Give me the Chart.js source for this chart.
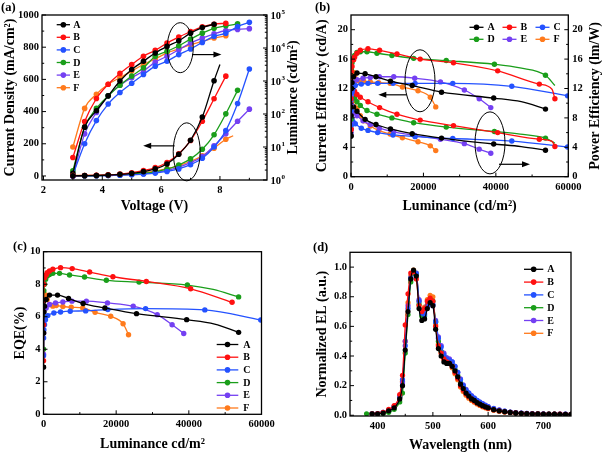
<!DOCTYPE html>
<html>
<head>
<meta charset="utf-8">
<script src="https://cdn.jsdelivr.net/npm/chart.js@4.4.1/dist/chart.umd.min.js"></script>
<style>
  body { margin: 0; background: #fff; }
  #page { position: relative; width: 602px; height: 454px; overflow: hidden; background: #fff; }
  canvas { position: absolute; }
  .tag { position: absolute; font: bold 12.5px "Liberation Serif", serif; line-height: 14px; color: #000; }
</style>
</head>
<body>
<div id="page">
  <canvas id="chartA" width="300" height="220" style="left:0;top:0"></canvas>
  <canvas id="chartB" width="302" height="220" style="left:300px;top:0"></canvas>
  <canvas id="chartC" width="300" height="234" style="left:0;top:220px"></canvas>
  <canvas id="chartD" width="302" height="234" style="left:300px;top:220px"></canvas>
  <div class="tag" style="left:1px;top:0px">(a)</div>
  <div class="tag" style="left:315px;top:0px">(b)</div>
  <div class="tag" style="left:13px;top:239px">(c)</div>
  <div class="tag" style="left:313px;top:240px">(d)</div>
</div>
<script>
// devices and colours, same order in every panel
const devices = ["A", "B", "C", "D", "E", "F"];
const colors = ["#000000", "#ff1010", "#2452ff", "#1a9e1a", "#7440f2", "#ff7a1c"];

// (a) current density (mA/cm2) + luminance (cd/m2) vs voltage
const voltage = [3.0, 3.4, 3.8, 4.2, 4.6, 5.0, 5.4, 5.8, 6.2, 6.6, 7.0, 7.4, 7.8, 8.2, 8.6, 9.0];
const jA = [1, 2, 3, 6, 10, 16, 27, 44, 74, 135, 222, 366, 592];
const jB = [2, 3, 4, 7, 12, 20, 33, 52, 84, 138, 220, 340, 480, 620];
const jC = [0, 1, 2, 3, 5, 8, 12, 18, 28, 44, 70, 110, 180, 282, 450, 665];
const jD = [1, 1, 2, 4, 7, 11, 17, 26, 42, 68, 106, 166, 256, 386, 532];
const jE = [1, 1, 2, 3, 5, 8, 13, 22, 35, 55, 83, 120, 187, 262, 340, 415];
const jF = [3, 3, 4, 6, 9, 13, 20, 30, 45, 65, 90, 125, 173, 228];
const jEndA = [8.0, 692];   // line runs past the last marker
const jEndF = [8.45, 250];
const lumA = [1.6, 40, 126, 355, 1000, 2240, 3980, 7080, 11200, 16600, 28200, 41700, 52500];
const lumB = [4.8, 59, 295, 794, 1700, 3160, 5620, 8510, 14100, 21400, 31600, 44000, 52500, 56300];
const lumC = [1.4, 12.6, 63, 200, 447, 851, 1580, 2820, 3980, 6310, 9330, 14800, 22400, 28200, 44700, 59800];
const lumD = [1.9, 40, 148, 355, 741, 1410, 2510, 5620, 7940, 11700, 18600, 28200, 39600, 47000, 53700];
const lumE = [1.3, 25, 112, 355, 741, 1260, 2000, 3720, 5620, 8910, 14100, 20000, 26900, 33900, 36500, 38600];
const lumF = [10, 148, 398, 794, 1260, 2000, 3160, 4680, 7080, 9330, 12600, 15800, 20000, 23400];

// (b) current efficiency (cd/A) and power efficiency (lm/W) vs luminance, [L, value, 0 = no marker]
const ceA = [[5, 5.6], [40, 9.5], [150, 12.0], [280, 12.8], [700, 13.6], [1650, 14.1], [3900, 14.0], [6900, 13.6], [10900, 13.0], [16900, 12.4], [25000, 11.5], [39400, 10.7], [47000, 10.2, 0], [53700, 9.2]];
const ceB = [[5, 6.4], [20, 10.6], [50, 13.5], [100, 14.3], [280, 15.0], [735, 15.9], [1010, 16.3], [1650, 16.8], [2570, 17.2], [4690, 17.4], [7900, 17.2], [12700, 16.7], [19100, 16.0], [28300, 15.5], [40500, 14.4], [52000, 12.6], [55500, 11.9, 0], [56300, 10.6]];
const ceC = [[5, 7.0], [30, 9.0], [100, 10.5], [280, 11.5], [550, 12.0], [1190, 12.4], [2850, 12.6], [4690, 12.7], [7350, 12.7], [11600, 12.7], [17700, 12.7], [28100, 12.7], [44400, 12.3], [59800, 11.0]];
const ceD = [[5, 7.8], [30, 11.7], [100, 14.7], [280, 15.5], [600, 16.1], [1010, 16.5], [1650, 16.9], [2570, 17.0], [4410, 17.0], [7170, 16.8], [11300, 16.5], [17300, 16.1], [26300, 15.8], [39600, 15.3], [46700, 14.8, 0], [53700, 13.8], [56300, 12.4, 0]];
const ceE = [[5, 7.2], [30, 9.8], [100, 11.1], [280, 11.8], [735, 12.8], [1650, 13.2], [3310, 13.4], [5330, 13.5], [7830, 13.6], [11800, 13.6], [17600, 13.4], [24700, 12.9], [31300, 11.8], [35400, 10.6], [38600, 9.4]];
const ceF = [[5, 9.7], [30, 12.6], [100, 13.6], [280, 14.3], [735, 14.2], [1010, 13.7], [1650, 13.1], [2570, 12.9], [3490, 13.0], [5330, 12.9], [7630, 12.8], [10800, 12.7], [14200, 12.2], [18500, 11.7], [21900, 10.8], [23400, 9.5]];
const peA = [[5, 5.5], [40, 8.3], [150, 9.4], [280, 9.6], [700, 9.5], [1650, 8.9], [3900, 7.8], [6900, 7.1], [10900, 6.5], [16900, 5.85], [25000, 5.25], [39400, 4.45], [47000, 4.1, 0], [53700, 3.6]];
const peB = [[5, 6.5], [20, 10.0], [50, 11.6], [100, 12.2], [280, 12.0], [735, 11.8], [1010, 11.6], [1650, 11.2], [2570, 10.8], [4690, 10.2], [7900, 9.4], [12700, 8.5], [19100, 7.7], [28300, 6.95], [40500, 6.0], [52000, 5.1], [55500, 4.8, 0], [56300, 4.1]];
const peC = [[5, 6.5], [30, 7.5], [100, 7.8], [280, 7.7], [550, 7.5], [1190, 7.2], [2850, 6.6], [4690, 6.3], [7350, 6.0], [11600, 5.68], [17700, 5.45], [28100, 5.2], [44400, 4.85], [59800, 4.05]];
const peD = [[5, 7.0], [30, 10.5], [100, 11.8], [280, 11.6], [600, 11.2], [1010, 10.7], [1650, 10.2], [2570, 9.7], [4410, 9.0], [7170, 8.5], [11300, 8.0], [17300, 7.35], [26300, 6.75], [39600, 6.15], [46700, 5.8, 0], [53700, 5.25], [56300, 4.55, 0]];
const peE = [[5, 6.0], [30, 8.0], [100, 8.6], [280, 8.8], [735, 8.7], [1650, 8.3], [3310, 7.6], [5330, 7.1], [7830, 6.6], [11800, 6.1], [17600, 5.6], [24700, 5.1], [31300, 4.5], [35400, 3.75], [38600, 3.2]];
const peF = [[5, 9.5], [30, 11.5], [100, 12.0], [280, 12.0], [735, 11.0], [1010, 10.4], [1650, 9.3], [2570, 8.3], [3490, 7.6], [5330, 6.9], [7630, 6.3], [10800, 5.8], [14200, 5.3], [18500, 4.75], [21900, 4.2], [23400, 3.55]];

// (c) EQE (%) vs luminance
const eqeA = [[5, 2.9], [40, 5.0], [150, 6.3], [280, 6.65], [735, 7.06], [1650, 7.33], [3860, 7.33], [6890, 7.12], [10900, 6.81], [16900, 6.54], [25600, 6.19], [39400, 5.82], [47100, 5.55, 0], [53700, 5.04]];
const eqeB = [[5, 3.3], [20, 5.5], [50, 7.0], [100, 8.0], [280, 8.4], [735, 8.57], [1010, 8.71], [1650, 8.81], [2570, 8.92], [4690, 9.02], [7900, 8.96], [12700, 8.75], [19100, 8.46], [28300, 8.17], [40500, 7.72], [51900, 6.89]];
const eqeC = [[5, 3.6], [30, 4.7], [100, 5.2], [280, 5.51], [550, 5.82], [1190, 6.07], [2850, 6.23], [4690, 6.29], [7350, 6.34], [11600, 6.36], [17700, 6.44], [28100, 6.5], [44400, 6.42], [59800, 5.8]];
const eqeD = [[5, 4.0], [30, 6.0], [100, 7.6], [280, 8.0], [600, 8.3], [1010, 8.5], [1650, 8.6], [2570, 8.67], [4410, 8.67], [7170, 8.57], [11300, 8.44], [17300, 8.24], [26300, 8.13], [39600, 7.95], [46700, 7.68, 0], [53700, 7.22]];
const eqeE = [[5, 3.7], [30, 5.0], [100, 5.7], [280, 6.03], [735, 6.54], [1650, 6.75], [3310, 6.85], [5330, 6.91], [7830, 6.96], [11800, 6.96], [17600, 6.85], [24700, 6.65], [31300, 6.13], [35400, 5.51], [38600, 4.97]];
const eqeF = [[5, 5.0], [30, 6.5], [100, 7.0], [280, 7.37], [735, 7.33], [1010, 7.06], [1650, 6.75], [2570, 6.65], [3490, 6.69], [5330, 6.63], [7630, 6.58], [10800, 6.54], [14200, 6.27], [18500, 6.03], [21900, 5.57], [23400, 4.89]];

// (d) normalized EL spectra
const wavelength = [380, 390, 400, 410, 420, 430, 440, 445, 450, 455, 460, 465, 470, 475, 480, 485, 490, 495, 500, 505, 510, 515, 520, 525, 530, 535, 540, 545, 550, 555, 560, 565, 570, 575, 580, 585, 590, 595, 600, 610, 620, 630, 640, 650, 660, 670, 680, 690, 700, 710, 720, 730, 740, 750];
const elA = [null, 0.01, 0.01, 0.015, 0.03, 0.05, 0.11, 0.2, 0.44, 0.7, 0.92, 0.98, 0.94, 0.72, 0.64, 0.65, 0.72, 0.76, 0.74, 0.58, 0.45, 0.4, 0.36, 0.35, 0.35, 0.33, 0.3, 0.26, 0.21, 0.18, 0.15, 0.13, 0.11, 0.1, 0.085, 0.075, 0.065, 0.057, 0.05, 0.038, 0.03, 0.024, 0.019, 0.016, 0.013, 0.011, 0.01, 0.009, 0.008, 0.007, 0.007, 0.006, 0.006, 0.006];
const elB = [null, 0.01, 0.012, 0.02, 0.04, 0.065, 0.14, 0.27, 0.61, 0.82, 0.96, 0.97, 0.92, 0.74, 0.7, 0.72, 0.77, 0.79, 0.77, 0.6, 0.47, 0.42, 0.38, 0.36, 0.35, 0.33, 0.29, 0.25, 0.2, 0.17, 0.145, 0.125, 0.11, 0.095, 0.083, 0.072, 0.063, 0.055, 0.048, 0.037, 0.029, 0.023, 0.019, 0.016, 0.013, 0.011, 0.01, 0.009, 0.008, 0.008, 0.007, 0.007, 0.006, 0.006];
const elC = [null, 0.01, 0.012, 0.02, 0.035, 0.06, 0.13, 0.24, 0.47, 0.72, 0.93, 0.97, 0.96, 0.77, 0.69, 0.68, 0.74, 0.76, 0.75, 0.63, 0.52, 0.46, 0.41, 0.38, 0.37, 0.36, 0.33, 0.29, 0.24, 0.2, 0.17, 0.15, 0.13, 0.115, 0.1, 0.088, 0.077, 0.067, 0.058, 0.045, 0.035, 0.028, 0.022, 0.018, 0.015, 0.013, 0.011, 0.01, 0.009, 0.008, 0.008, 0.007, 0.007, 0.006];
const elD = [0.01, 0.01, 0.01, 0.012, 0.02, 0.04, 0.09, 0.15, 0.42, 0.68, 0.9, 0.96, 0.95, 0.75, 0.67, 0.67, 0.74, 0.78, 0.77, 0.63, 0.5, 0.43, 0.39, 0.37, 0.36, 0.34, 0.31, 0.27, 0.22, 0.19, 0.16, 0.14, 0.12, 0.105, 0.09, 0.08, 0.07, 0.06, 0.052, 0.04, 0.031, 0.025, 0.02, 0.016, 0.013, 0.011, 0.01, 0.009, 0.008, 0.007, 0.007, 0.006, 0.006, 0.006];
const elE = [null, 0.01, 0.012, 0.02, 0.035, 0.06, 0.12, 0.22, 0.5, 0.74, 0.92, 0.96, 0.95, 0.78, 0.7, 0.69, 0.74, 0.76, 0.74, 0.64, 0.53, 0.47, 0.42, 0.39, 0.38, 0.36, 0.33, 0.29, 0.245, 0.205, 0.175, 0.152, 0.132, 0.116, 0.101, 0.089, 0.078, 0.068, 0.059, 0.046, 0.036, 0.028, 0.022, 0.018, 0.015, 0.013, 0.011, 0.01, 0.009, 0.008, 0.008, 0.007, 0.007, 0.006];
const elF = [null, 0.01, 0.012, 0.018, 0.035, 0.06, 0.12, 0.23, 0.5, 0.76, 0.94, 0.98, 0.96, 0.77, 0.71, 0.73, 0.78, 0.81, 0.8, 0.61, 0.48, 0.42, 0.38, 0.36, 0.35, 0.32, 0.28, 0.24, 0.19, 0.16, 0.135, 0.115, 0.1, 0.088, 0.076, 0.066, 0.057, 0.05, 0.044, 0.034, 0.027, 0.022, 0.018, 0.015, 0.012, 0.011, 0.01, 0.009, 0.008, 0.008, 0.007, 0.007, 0.006, 0.006];

// tick labels
const voltTicks = [2, 4, 6, 8];
const jTicks = [0, 200, 400, 600, 800, 1000];
const lumLogTicks = [1, 10, 100, 1000, 10000, 100000];
const lumTicks = [0, 20000, 40000, 60000];
const effTicks = [0, 4, 8, 12, 16, 20];
const eqeTicks = [0, 2, 4, 6, 8, 10];
const wlTicks = [400, 500, 600, 700];
const elTicks = [0, 0.2, 0.4, 0.6, 0.8, 1.0];

const serif = "'Liberation Serif', 'Times New Roman', serif";
const tickFont = { family: serif, size: 10.5, weight: "bold" };
const titleFont = { family: serif, size: 14, weight: "bold" };

function pairs(xs, ys, end) {
    const pts = ys.map((y, i) => [xs[i], y]);
    if (end) pts.push([end[0], end[1], 0]);
    return pts;
}

function lineSet(label, color, data, yAxisID, radius, width) {
    return {
        label: label,
        data: data,
        yAxisID: yAxisID,
        borderColor: color,
        backgroundColor: color,
        borderWidth: width || 1.3,
        pointRadius: c => (c.raw && c.raw[2] === 0) ? 0 : radius,
        pointBorderWidth: 0,
        pointHoverRadius: 0,
        cubicInterpolationMode: "monotone"
    };
}

function axis(o) {
    return {
        type: o.type || "linear",
        position: o.position,
        min: o.min,
        max: o.max,
        grid: { display: false, drawTicks: false },
        border: { display: false },
        ticks: {
            font: tickFont, color: "#000",
            padding: o.pad == null ? 3 : o.pad,
            autoSkip: false, maxRotation: 0,
            callback: o.format || (v => String(v))
        },
        afterBuildTicks: s => { s.ticks = o.ticks.map(v => ({ value: v })); },
        afterFit: s => { if (s.isHorizontal()) s.height = o.size; else s.width = o.size; },
        title: o.title
            ? { display: true, text: o.title, font: titleFont, color: "#000", padding: o.titlePad }
            : { display: false }
    };
}

function minorOf(s) {
    const major = s.ticks.map(t => t.value);
    const out = [];
    if (s.type === "logarithmic") {
        for (let e = 0; e < 5; e++) for (let k = 2; k < 10; k++) out.push(k * Math.pow(10, e));
        return out;
    }
    const step = major[1] - major[0];
    major.forEach(v => out.push(v - step / 2));
    out.push(major[major.length - 1] + step / 2);
    return out.filter(v => v > s.min + step * 0.01 && v < s.max - step * 0.01);
}

// frame, inward ticks, log labels, right titles, ellipses, arrows, legend
const deco = {
    id: "deco",
    afterDraw(chart, args, o) {
        const { ctx, chartArea: a, scales } = chart;
        ctx.save();
        ctx.strokeStyle = "#000";
        ctx.fillStyle = "#000";
        ctx.lineWidth = 1.3;
        ctx.strokeRect(a.left, a.top, a.right - a.left, a.bottom - a.top);

        Object.values(scales).forEach(s => {
            const tick = (v, len) => {
                const p = s.getPixelForValue(v);
                ctx.beginPath();
                if (s.isHorizontal()) { ctx.moveTo(p, a.bottom); ctx.lineTo(p, a.bottom - len); }
                else if (s.position === "left") { ctx.moveTo(a.left, p); ctx.lineTo(a.left + len, p); }
                else { ctx.moveTo(a.right, p); ctx.lineTo(a.right - len, p); }
                ctx.stroke();
            };
            ctx.lineWidth = 1;
            s.ticks.forEach(t => tick(t.value, 4));
            minorOf(s).forEach(v => tick(v, 2.2));

            if (s.type === "logarithmic") {
                ctx.textAlign = "left";
                ctx.textBaseline = "middle";
                s.ticks.forEach(t => {
                    const p = s.getPixelForValue(t.value);
                    const x = a.right + 3.5;
                    ctx.font = "bold 10.5px " + serif;
                    ctx.fillText("10", x, p + 1);
                    const w = ctx.measureText("10").width;
                    ctx.font = "bold 7px " + serif;
                    ctx.fillText(String(Math.round(Math.log10(t.value))), x + w + 0.5, p - 3);
                });
            }
        });

        if (o.rightTitle) {
            ctx.save();
            ctx.translate(o.rightTitle.x, (a.top + a.bottom) / 2);
            ctx.rotate(-Math.PI / 2);
            ctx.font = "bold 14px " + serif;
            ctx.textAlign = "center";
            ctx.textBaseline = "middle";
            ctx.fillText(o.rightTitle.text, 0, 0);
            ctx.restore();
        }

        ctx.lineWidth = 1;
        (o.ellipses || []).forEach(e => {
            const cx = scales.x.getPixelForValue(e.x);
            const cy = scales.y.getPixelForValue(e.y);
            ctx.beginPath();
            ctx.ellipse(cx, cy, e.rx, e.ry, 0, 0, Math.PI * 2);
            ctx.stroke();
        });
        (o.arrows || []).forEach(r => {
            const x1 = scales.x.getPixelForValue(r.x1);
            const x2 = scales.x.getPixelForValue(r.x2);
            const y = scales.y.getPixelForValue(r.y);
            const dir = Math.sign(x2 - x1);
            ctx.lineWidth = 1.2;
            ctx.beginPath();
            ctx.moveTo(x1, y);
            ctx.lineTo(x2 - dir * 6, y);
            ctx.stroke();
            ctx.beginPath();
            ctx.moveTo(x2, y);
            ctx.lineTo(x2 - dir * 8, y - 3);
            ctx.lineTo(x2 - dir * 8, y + 3);
            ctx.closePath();
            ctx.fill();
        });

        if (o.legend) {
            const L = o.legend;
            const items = chart.data.datasets.filter(d => d.label);
            ctx.font = "bold 10px " + serif;
            ctx.textAlign = "left";
            ctx.textBaseline = "middle";
            items.forEach((d, i) => {
                const col = i % L.cols;
                const row = Math.floor(i / L.cols);
                const x = L.x + col * L.dx;
                const y = L.y + row * L.dy;
                ctx.strokeStyle = d.borderColor;
                ctx.fillStyle = d.borderColor;
                ctx.lineWidth = 1.3;
                ctx.beginPath();
                ctx.moveTo(x, y);
                ctx.lineTo(x + L.len, y);
                ctx.stroke();
                ctx.beginPath();
                ctx.arc(x + L.len / 2, y, 2.8, 0, Math.PI * 2);
                ctx.fill();
                ctx.fillStyle = "#000";
                ctx.fillText(d.label, x + L.len + L.gap, y + 0.5);
            });
        }
        ctx.restore();
    }
};

const common = {
    responsive: false,
    animation: false,
    events: []
};

// ---- (a) ----
const jData = [pairs(voltage, jA, jEndA), pairs(voltage, jB), pairs(voltage, jC),
               pairs(voltage, jD), pairs(voltage, jE), pairs(voltage, jF, jEndF)];
const lumData = [lumA, lumB, lumC, lumD, lumE, lumF].map(l => pairs(voltage, l));

new Chart(document.getElementById("chartA"), {
    type: "line",
    data: {
        datasets: [
            ...jData.map((d, i) => lineSet(devices[i], colors[i], d, "y", 2.8)),
            ...lumData.map((d, i) => lineSet("", colors[i], d, "y2", 2.8))
        ]
    },
    options: {
        ...common,
        layout: { padding: { top: 15, left: 0, right: 0, bottom: 0 } },
        plugins: {
            legend: { display: false },
            tooltip: { enabled: false },
            deco: {
                legend: { x: 56.7, y: 24.7, dx: 0, dy: 12.6, cols: 1, len: 13.3, gap: 3.3 },
                rightTitle: { text: "Luminance (cd/m²)", x: 293 },
                ellipses: [{ x: 6.65, y: 797, rx: 13, ry: 25 }, { x: 6.87, y: 150, rx: 13.5, ry: 29 }],
                arrows: [{ x1: 7.05, x2: 8.05, y: 754 }, { x1: 6.46, x2: 5.39, y: 187 }]
            }
        },
        scales: {
            x: axis({ position: "bottom", min: 1.95, max: 9.6, ticks: voltTicks, size: 40, pad: 4,
                      title: "Voltage (V)", titlePad: { bottom: 5 } }),
            y: axis({ position: "left", min: -25, max: 1000, ticks: jTicks, size: 42,
                      title: "Current Density (mA/cm²)", titlePad: { top: 1.6 } }),
            y2: axis({ type: "logarithmic", position: "right", min: 1, max: 100000, ticks: lumLogTicks,
                       size: 33, format: () => "" })
        }
    },
    plugins: [deco]
});

// ---- (b) ----
new Chart(document.getElementById("chartB"), {
    type: "line",
    data: {
        datasets: [
            ...[ceA, ceB, ceC, ceD, ceE, ceF].map((d, i) => lineSet(devices[i], colors[i], d, "y", 2.7)),
            ...[peA, peB, peC, peD, peE, peF].map((d, i) => lineSet("", colors[i], d, "y2", 2.7))
        ]
    },
    options: {
        ...common,
        layout: { padding: { top: 15, left: 0, right: 0, bottom: 0 } },
        plugins: {
            legend: { display: false },
            tooltip: { enabled: false },
            deco: {
                legend: { x: 169.5, y: 27.3, dx: 33, dy: 12, cols: 3, len: 14, gap: 4 },
                rightTitle: { text: "Power Efficiency (lm/W)", x: 295.5 },
                ellipses: [{ x: 19050, y: 13.05, rx: 15, ry: 31 }, { x: 38380, y: 4.6, rx: 15, ry: 31 }],
                arrows: [{ x1: 15380, x2: 7540, y: 11.14 }, { x1: 40860, x2: 49420, y: 1.69 }]
            }
        },
        scales: {
            x: axis({ position: "bottom", min: 0, max: 60000, ticks: lumTicks, size: 43.3, pad: 4,
                      title: "Luminance (cd/m²)", titlePad: { bottom: 5 } }),
            y: axis({ position: "left", min: 0, max: 22, ticks: effTicks, size: 51,
                      title: "Current Efficiency (cd/A)", titlePad: { top: 14.1 } }),
            y2: axis({ position: "right", min: 0, max: 22, ticks: effTicks, size: 33.7, pad: 4 })
        }
    },
    plugins: [deco]
});

// ---- (c) ----
new Chart(document.getElementById("chartC"), {
    type: "line",
    data: {
        datasets: [eqeA, eqeB, eqeC, eqeD, eqeE, eqeF].map((d, i) => lineSet(devices[i], colors[i], d, "y", 2.7))
    },
    options: {
        ...common,
        layout: { padding: { top: 31.7, left: 0, right: 38.5, bottom: 0 } },
        plugins: {
            legend: { display: false },
            tooltip: { enabled: false },
            deco: {
                legend: { x: 216.7, y: 124.5, dx: 0, dy: 12.7, cols: 1, len: 21.6, gap: 5 }
            }
        },
        scales: {
            x: axis({ position: "bottom", min: 0, max: 60000, ticks: lumTicks, size: 39.7, pad: 4,
                      title: "Luminance cd/m²", titlePad: { bottom: 1.1 } }),
            y: axis({ position: "left", min: 0, max: 10, ticks: eqeTicks, size: 43.5,
                      title: "EQE(%)", titlePad: { top: 11.6 } })
        }
    },
    plugins: [deco]
});

// ---- (d) ----
new Chart(document.getElementById("chartD"), {
    type: "line",
    data: {
        datasets: [elA, elB, elC, elD, elE, elF].map((v, i) =>
            lineSet(devices[i], colors[i], pairs(wavelength, v), "y", 2.6, 1.2))
    },
    options: {
        ...common,
        layout: { padding: { top: 32.3, left: 0, right: 31, bottom: 0 } },
        plugins: {
            legend: { display: false },
            tooltip: { enabled: false },
            deco: {
                legend: { x: 224, y: 49.3, dx: 0, dy: 12.8, cols: 1, len: 19.3, gap: 4 }
            }
        },
        scales: {
            x: axis({ position: "bottom", min: 350, max: 750, ticks: wlTicks, size: 38, pad: 4,
                      title: "Wavelength (nm)", titlePad: { bottom: 0.5 } }),
            y: axis({ position: "left", min: -0.005, max: 1.1, ticks: elTicks, size: 50,
                      format: v => v.toFixed(1),
                      title: "Normalized EL (a.u.)", titlePad: { top: 14.1 } })
        }
    },
    plugins: [deco]
});
</script>
</body>
</html>
